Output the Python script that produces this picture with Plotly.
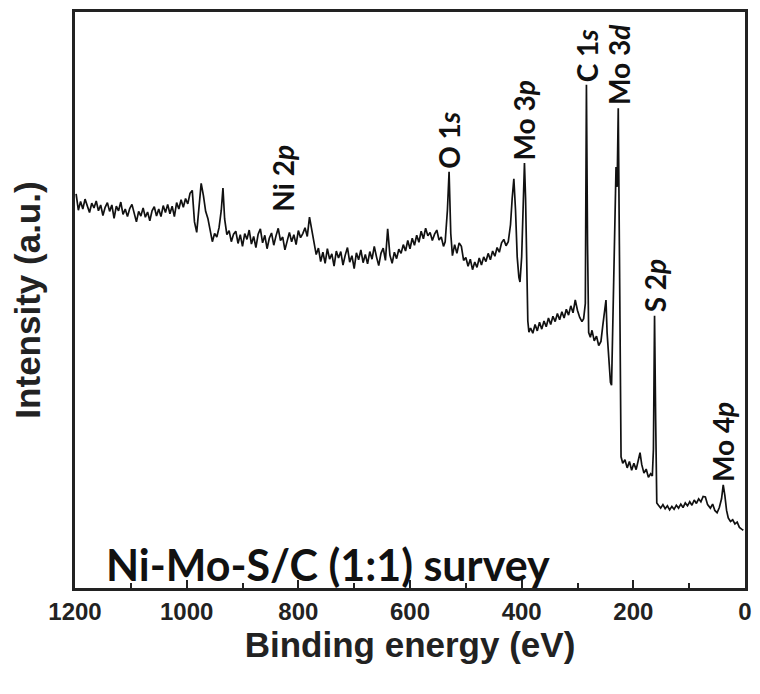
import plotly.graph_objects as go

# XPS survey spectrum of Ni-Mo-S/C (1:1): binding energy (eV) vs intensity (a.u.)
binding_energy = [
    1198, 1194, 1190, 1186, 1182, 1178, 1174, 1170, 1166, 1162, 1158, 1154, 1150, 1146,
    1142, 1138, 1134, 1130, 1126, 1122, 1118, 1114, 1110, 1106, 1102, 1098, 1094, 1090,
    1086, 1082, 1078, 1074, 1070, 1066, 1062, 1058, 1054, 1050, 1046, 1042, 1038, 1034,
    1030, 1026, 1022, 1018, 1014, 1010, 1006, 1002, 998, 994, 990, 986, 982, 978, 974,
    970, 966, 962, 958, 954, 950, 946, 942, 938, 935, 932, 928, 924, 920, 916,
    912, 908, 904, 900, 896, 892, 888, 884, 880, 876, 872, 868, 864, 860, 856, 852, 848,
    844, 840, 836, 832, 828, 824, 820, 816, 812, 808, 804, 800, 796, 792, 788, 784, 780,
    776, 772, 768,
    764, 760, 756, 752, 748, 744, 740, 736, 732, 728, 724, 720, 716, 712, 708, 704, 700,
    696, 692, 688, 684, 680, 676, 672, 668, 664, 660, 656, 652, 648, 644, 640, 636, 632,
    628, 624, 620,
    616, 612, 608, 604, 600, 596, 592, 588, 584, 580, 576, 572, 568, 564, 560, 556, 552,
    548, 544, 540, 537,
    533, 530, 527, 524, 520, 516, 512, 508, 504, 500, 496, 492, 488, 484, 480, 476, 472,
    468, 464, 460, 456, 452, 448, 444, 440, 436, 432, 428, 424,
    420, 417, 414, 411, 408, 405, 403, 400, 398, 396, 395, 393, 391, 389, 387, 384, 380,
    376, 372, 368, 364, 360, 356, 352, 348, 344, 340, 336, 332, 328, 324, 320, 316, 312,
    308, 304, 300, 296, 292, 289, 286, 284, 282, 280, 277, 274, 270, 266, 262, 258, 255,
    252, 249, 247, 244, 241, 239, 236, 233, 231, 229, 227, 225, 223, 222, 219, 215, 211,
    207, 203, 199, 195, 191, 188, 185, 181, 177, 173, 169, 166, 164, 162, 160, 158, 155,
    151, 147, 143, 139, 135, 131, 127, 123, 119, 115, 111, 107, 103, 99, 95, 91, 87, 83,
    79, 75, 71, 67, 62, 58, 54, 50, 46, 42, 39, 36, 33, 30, 26, 22, 18, 14, 10, 6, 3,
]
intensity = [
    68.8, 66.0, 67.5, 66.2, 67.9, 66.8, 65.6, 67.2, 66.4, 67.6, 65.9, 66.9, 65.1, 66.5,
    67.3, 65.8, 66.9, 64.6, 66.7, 65.9, 67.4, 65.3, 66.2, 64.9, 66.3, 67.0, 65.5, 64.0,
    65.8, 65.0, 66.4, 64.8, 65.7, 64.2, 65.9, 66.6, 65.0, 66.2, 64.9, 66.8, 65.6, 67.0,
    65.4, 66.7, 64.9, 67.3, 66.2, 67.8, 66.5, 68.0, 67.1, 68.9, 69.4, 64.0, 62.2, 66.5, 70.6,
    68.5, 65.8, 64.6, 62.5, 60.6, 62.0, 61.4, 63.0, 66.0, 69.8, 64.5, 61.8, 62.5, 60.6, 61.9,
    62.4, 60.3, 61.8, 59.8, 62.0, 61.0, 62.6, 60.2, 61.5, 59.6, 61.9, 62.8, 60.4, 61.7, 59.4, 61.2, 62.1,
    60.0, 61.6, 62.9, 60.8, 61.4, 59.2, 61.0, 62.2, 60.6, 61.8, 60.1, 62.5, 61.3, 62.0, 63.0, 61.5, 64.8,
    62.4, 60.2, 58.4,
    59.5, 57.2, 58.8, 56.9, 59.4, 57.6, 58.5, 56.4, 59.0, 57.8, 58.9, 56.6, 58.3, 59.6, 57.1, 58.2, 56.0,
    58.7, 57.5, 59.2, 57.0, 58.4, 56.8, 58.9, 57.6, 59.8, 58.0, 56.5, 58.6, 59.5, 57.4, 62.8, 58.3, 56.9,
    58.8, 57.7, 59.3,
    58.6, 60.1, 59.0, 60.8, 59.4, 61.2, 60.0, 61.7, 60.5, 62.4, 61.1, 62.9, 61.6, 62.2, 60.8, 61.9, 62.6,
    60.9, 61.4, 59.8, 60.6,
    66.0, 72.6, 62.0, 58.2, 60.1, 58.6, 60.4, 59.8, 57.4, 57.9, 56.4, 57.6, 55.8, 57.1, 56.2, 57.8, 56.6,
    58.0, 57.2, 58.6, 57.5, 59.0, 58.1, 59.6, 58.8, 60.4, 61.0, 59.9, 60.6,
    63.5, 68.0, 71.4, 66.0, 58.0, 54.5, 53.7, 58.0, 66.0, 72.5, 74.1, 68.0, 56.0, 47.0, 45.1, 45.8, 44.9,
    46.4, 45.3, 46.8, 45.6, 47.0, 46.0, 47.5, 46.4, 47.8, 46.9, 48.3, 47.2, 48.6, 47.5, 49.0, 48.0, 49.6,
    48.4, 50.6, 48.8, 47.6, 46.9, 47.4, 50.0, 87.5, 60.0, 45.0, 44.2, 45.4, 43.6, 44.4, 42.8, 43.5, 46.0,
    48.0, 50.6, 45.0, 40.0, 36.5, 36.0, 48.0, 60.0, 73.4, 70.0, 83.5, 60.0, 30.0, 23.7, 22.6, 23.2, 21.8,
    22.9, 21.4, 22.6, 21.5, 23.0, 24.4, 22.4, 20.9, 21.6, 20.2, 20.8, 20.4, 25.0, 47.9, 30.0, 15.8, 15.4,
    14.9, 15.5, 14.8, 15.3, 14.6, 15.2, 14.7, 15.4, 14.9, 15.6, 15.0, 15.8, 15.3, 16.0, 15.4, 16.3, 15.7, 16.5,
    16.0, 16.9, 16.8, 15.5, 14.9, 15.6, 14.5, 14.1, 15.0, 16.5, 18.9, 17.0, 14.5, 13.2, 12.6, 12.9, 12.2, 12.5,
    11.6, 11.3, 11.1,
]

# Peak assignments: label, binding energy, height of the label foot
peak_labels = ["Ni 2<i>p</i>", "O 1<i>s</i>", "Mo 3<i>p</i>", "C 1<i>s</i>",
               "Mo 3<i>d</i>", "S 2<i>p</i>", "Mo 4<i>p</i>"]
peak_energy = [827, 530, 395, 284, 227, 162, 39]
peak_height = [65.2, 72.6, 74.1, 87.5, 83.5, 47.9, 18.9]

x_ticks = [1200, 1000, 800, 600, 400, 200, 0]

fig = go.Figure()
fig.add_trace(go.Scatter(
    x=binding_energy, y=intensity, mode="lines",
    line=dict(color="#111111", width=1.7), showlegend=False,
))

label_font = dict(family="Lato", size=28, color="#111111", weight="bold")
for text, ev, h in zip(peak_labels, peak_energy, peak_height):
    fig.add_annotation(
        x=ev, y=h, xref="x", yref="y", text=text, textangle=-90,
        showarrow=False, xanchor="center", yanchor="bottom", yshift=1,
        font=label_font,
    )

fig.add_annotation(
    x=0.044, y=0.04, xref="paper", yref="paper", xanchor="left", yanchor="middle",
    text="Ni-Mo-S/C (1:1) survey", showarrow=False,
    font=dict(family="Lato", size=43, color="#111111", weight="bold"),
)

axis_font = dict(family="Liberation Sans", size=24, color="#222222", weight="bold")
title_font = dict(family="Liberation Sans", size=35, color="#222222", weight="bold")

fig.update_xaxes(
    range=[1200, 0], tickvals=x_ticks, ticks="inside", ticklen=8, tickwidth=2,
    tickcolor="#222222", minor=dict(dtick=100, ticks="inside", ticklen=5, tickwidth=2,
                                    tickcolor="#222222"),
    showline=True, linewidth=2.5, linecolor="#222222", mirror=True,
    showgrid=False, zeroline=False, tickfont=axis_font,
    title=dict(text="Binding energy (eV)", font=title_font, standoff=4),
)
fig.update_yaxes(
    range=[1.2, 100], showticklabels=False, ticks="",
    showline=True, linewidth=2.5, linecolor="#222222", mirror=True,
    showgrid=False, zeroline=False,
    title=dict(text="Intensity (a.u.)", font=title_font, standoff=22),
)

fig.update_layout(
    width=760, height=694,
    margin=dict(l=75, r=8, t=12, b=106),
    plot_bgcolor="white", paper_bgcolor="white",
)

fig.write_html("out.html")
